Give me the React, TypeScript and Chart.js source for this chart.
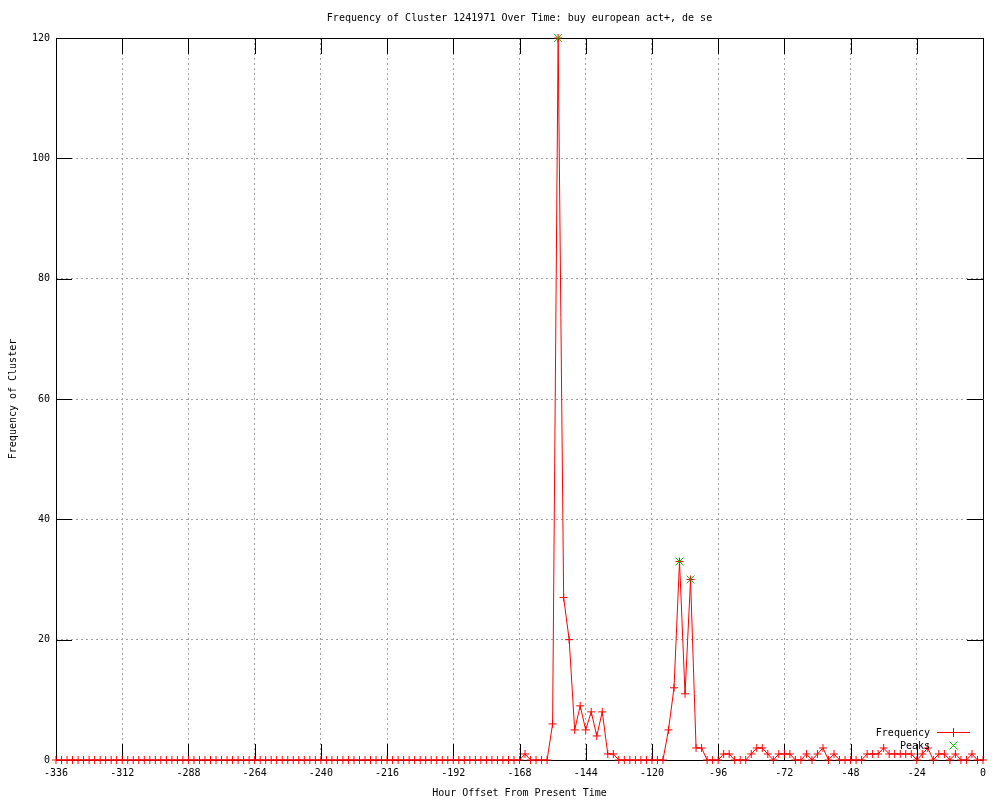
import React, { useEffect, useRef } from "react";
import { Chart, registerables } from "chart.js";

Chart.register(...registerables);

const chartTitle = "Frequency of Cluster 1241971 Over Time: buy european act+, de se";
const xAxisTitle = "Hour Offset From Present Time";
const yAxisTitle = "Frequency of Cluster";
const legendLabels = ["Frequency", "Peaks"];

const hours = [
  -336, -334, -332, -330, -328, -326, -324, -322, -320, -318, -316, -314,
  -312, -310, -308, -306, -304, -302, -300, -298, -296, -294, -292, -290,
  -288, -286, -284, -282, -280, -278, -276, -274, -272, -270, -268, -266,
  -264, -262, -260, -258, -256, -254, -252, -250, -248, -246, -244, -242,
  -240, -238, -236, -234, -232, -230, -228, -226, -224, -222, -220, -218,
  -216, -214, -212, -210, -208, -206, -204, -202, -200, -198, -196, -194,
  -192, -190, -188, -186, -184, -182, -180, -178, -176, -174, -172, -170,
  -168, -166, -164, -162, -160, -158, -156, -154, -152, -150, -148, -146,
  -144, -142, -140, -138, -136, -134, -132, -130, -128, -126, -124, -122,
  -120, -118, -116, -114, -112, -110, -108, -106, -104, -102, -100, -98,
  -96, -94, -92, -90, -88, -86, -84, -82, -80, -78, -76, -74,
  -72, -70, -68, -66, -64, -62, -60, -58, -56, -54, -52, -50,
  -48, -46, -44, -42, -40, -38, -36, -34, -32, -30, -28, -26,
  -24, -22, -20, -18, -16, -14, -12, -10, -8, -6, -4, -2,
  0,
];

const frequency = [
  0, 0, 0, 0, 0, 0, 0, 0, 0, 0, 0, 0,
  0, 0, 0, 0, 0, 0, 0, 0, 0, 0, 0, 0,
  0, 0, 0, 0, 0, 0, 0, 0, 0, 0, 0, 0,
  0, 0, 0, 0, 0, 0, 0, 0, 0, 0, 0, 0,
  0, 0, 0, 0, 0, 0, 0, 0, 0, 0, 0, 0,
  0, 0, 0, 0, 0, 0, 0, 0, 0, 0, 0, 0,
  0, 0, 0, 0, 0, 0, 0, 0, 0, 0, 0, 0,
  0, 1, 0, 0, 0, 0, 6, 120, 27, 20, 5, 9,
  5, 8, 4, 8, 1, 1, 0, 0, 0, 0, 0, 0,
  0, 0, 0, 5, 12, 33, 11, 30, 2, 2, 0, 0,
  0, 1, 1, 0, 0, 0, 1, 2, 2, 1, 0, 1,
  1, 1, 0, 0, 1, 0, 1, 2, 0, 1, 0, 0,
  0, 0, 0, 1, 1, 1, 2, 1, 1, 1, 1, 1,
  0, 1, 2, 0, 1, 1, 0, 1, 0, 0, 1, 0,
  0,
];

const peakHours = [-154, -110, -106];
const peakValues = [120, 33, 30];

const xTicks = [-336, -312, -288, -264, -240, -216, -192, -168, -144, -120, -96, -72, -48, -24, 0];
const yTicks = [0, 20, 40, 60, 80, 100, 120];

const RED = "#ff0000";
const GREEN = "#00c000";
const FONT = '10px "DejaVu Sans Mono"';

const decorPlugin = {
  id: "gnuplotDecor",
  beforeDatasetsDraw(chart: any) {
    const { ctx, chartArea } = chart;
    const xs = chart.scales.x;
    const ys = chart.scales.y;
    const L = chartArea.left, R = chartArea.right, T = chartArea.top, B = chartArea.bottom;
    ctx.save();
    ctx.strokeStyle = "#000000";
    ctx.lineWidth = 1;
    ctx.beginPath();
    ctx.rect(Math.round(L) + 0.5, Math.round(T) + 0.5, Math.round(R - L), Math.round(B - T));
    ctx.stroke();
    const tl = 16;
    ctx.beginPath();
    for (const v of xTicks) {
      const px = Math.round(xs.getPixelForValue(v)) + 0.5;
      ctx.moveTo(px, B);
      ctx.lineTo(px, B - tl);
      ctx.moveTo(px, T);
      ctx.lineTo(px, T + tl);
    }
    for (const v of yTicks) {
      const py = Math.round(ys.getPixelForValue(v)) + 0.5;
      ctx.moveTo(L, py);
      ctx.lineTo(L + tl, py);
      ctx.moveTo(R, py);
      ctx.lineTo(R - tl, py);
    }
    ctx.stroke();
    ctx.restore();
  },
  afterDraw(chart: any) {
    const { ctx, chartArea } = chart;
    const cx = (chartArea.left + chartArea.right) / 2;
    const cy = (chartArea.top + chartArea.bottom) / 2;
    ctx.save();
    ctx.fillStyle = "#000000";
    ctx.font = FONT;
    ctx.textAlign = "center";
    ctx.textBaseline = "middle";
    ctx.fillText(chartTitle, cx, 18);
    ctx.fillText(xAxisTitle, cx, 793);
    ctx.save();
    ctx.translate(13, cy);
    ctx.rotate(-Math.PI / 2);
    ctx.fillText(yAxisTitle, 0, 0);
    ctx.restore();

    // legend
    ctx.textAlign = "right";
    ctx.fillText(legendLabels[0], 930, 733);
    ctx.fillText(legendLabels[1], 930, 746);
    ctx.strokeStyle = RED;
    ctx.lineWidth = 1;
    ctx.beginPath();
    ctx.moveTo(937, 732.5);
    ctx.lineTo(970, 732.5);
    ctx.moveTo(953.5, 728);
    ctx.lineTo(953.5, 737);
    ctx.stroke();
    ctx.strokeStyle = GREEN;
    ctx.beginPath();
    ctx.moveTo(949.5, 741.5);
    ctx.lineTo(957.5, 749.5);
    ctx.moveTo(957.5, 741.5);
    ctx.lineTo(949.5, 749.5);
    ctx.stroke();
    ctx.restore();
  },
};

export default function App() {
  const canvasRef = useRef<HTMLCanvasElement | null>(null);

  useEffect(() => {
    document.body.style.margin = "0";
    const canvas = canvasRef.current;
    if (!canvas) return;

    const freqData = hours.map((h, i) => ({ x: h, y: frequency[i] }));
    const peakData = peakHours.map((h, i) => ({ x: h, y: peakValues[i] }));

    const gridColor = (c: any) => {
      const v = c.tick ? c.tick.value : null;
      const s = c.scale;
      if (v === s.min || v === s.max) return "rgba(0,0,0,0)";
      return "#a0a0a0";
    };

    const chart = new Chart(canvas, {
      type: "line",
      data: {
        datasets: [
          {
            label: legendLabels[1],
            data: peakData,
            showLine: false,
            borderColor: GREEN,
            backgroundColor: GREEN,
            pointStyle: "crossRot",
            pointRadius: 5.5,
            pointBorderWidth: 1,
            pointBorderColor: GREEN,
            clip: false,
            order: 0,
          },
          {
            label: legendLabels[0],
            data: freqData,
            borderColor: RED,
            backgroundColor: RED,
            borderWidth: 1,
            pointStyle: "cross",
            pointRadius: 4,
            pointBorderWidth: 1,
            pointBorderColor: RED,
            tension: 0,
            fill: false,
            clip: false,
            order: 1,
          },
        ],
      },
      options: {
        animation: false,
        responsive: false,
        maintainAspectRatio: false,
        layout: { padding: { left: 0, top: 38, right: 17, bottom: 0 } },
        plugins: {
          legend: { display: false },
          title: { display: false },
          tooltip: { enabled: false },
        },
        scales: {
          x: {
            type: "linear",
            min: -336,
            max: 0,
            afterFit: (s: any) => {
              s.height = 40;
            },
            afterBuildTicks: (s: any) => {
              s.ticks = xTicks.map((v) => ({ value: v }));
            },
            ticks: {
              stepSize: 24,
              padding: 7,
              color: "#000000",
              font: { family: "DejaVu Sans Mono", size: 10 },
              maxRotation: 0,
              autoSkip: false,
            },
            grid: { color: gridColor, drawTicks: false, lineWidth: 1 },
            border: { display: false, dash: [2, 3] },
          },
          y: {
            type: "linear",
            min: 0,
            max: 120,
            afterFit: (s: any) => {
              s.width = 56;
            },
            afterBuildTicks: (s: any) => {
              s.ticks = yTicks.map((v) => ({ value: v }));
            },
            ticks: {
              stepSize: 20,
              padding: 6,
              color: "#000000",
              font: { family: "DejaVu Sans Mono", size: 10 },
            },
            grid: { color: gridColor, drawTicks: false, lineWidth: 1 },
            border: { display: false, dash: [2, 3] },
          },
        },
      },
      plugins: [decorPlugin],
    });

    return () => {
      chart.destroy();
    };
  }, []);

  return (
    <div style={{ width: 1000, height: 800, background: "#ffffff" }}>
      <canvas ref={canvasRef} width={1000} height={800} style={{ display: "block", width: 1000, height: 800 }} />
    </div>
  );
}
